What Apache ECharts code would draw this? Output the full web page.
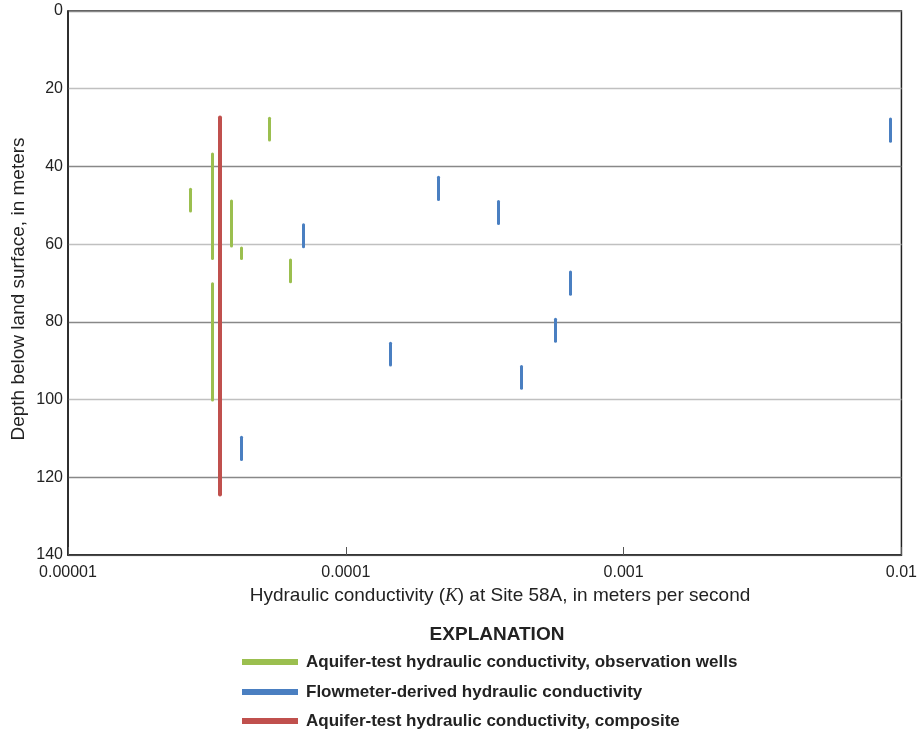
<!DOCTYPE html>
<html>
<head>
<meta charset="utf-8">
<script src="https://cdn.jsdelivr.net/npm/echarts@6/dist/echarts.min.js"></script>
<style>
  html, body { margin: 0; padding: 0; background: #fff; }
  #chart { width: 920px; height: 729px; }
</style>
</head>
<body>
<div id="chart"></div>
<script>
// Hydraulic conductivity (m/s) and tested depth interval (m) at Site 58A
const obsK      = [2.75e-5, 3.30e-5, 3.30e-5, 3.87e-5, 4.22e-5, 5.28e-5, 6.33e-5];
const obsTop    = [45.9,    36.8,    70.2,    48.9,    61.0,    27.6,    64.1];
const obsBottom = [51.5,    63.7,    100.1,   60.5,    63.7,    33.2,    69.7];

const flowK      = [7.03e-5, 2.15e-4, 3.55e-4, 6.42e-4, 5.69e-4, 1.44e-4, 4.28e-4, 4.22e-5, 9.12e-3];
const flowTop    = [55.0,    42.8,    49.0,    67.2,    79.3,    85.5,    91.5,    109.7,   27.8];
const flowBottom = [60.7,    48.5,    54.7,    72.9,    85.0,    91.1,    97.1,    115.4,   33.5];

const compK      = [3.52e-5];
const compTop    = [27.4];
const compBottom = [124.4];

const xTickLabels = ['0.00001', '0.0001', '0.001', '0.01'];
const yTicks = [0, 20, 40, 60, 80, 100, 120, 140];

const seriesNames = [
  'Aquifer-test hydraulic conductivity, observation wells',
  'Flowmeter-derived hydraulic conductivity',
  'Aquifer-test hydraulic conductivity, composite'
];
const colors = ['#9bbf4f', '#4a7fc1', '#c0504d'];

const FONT = '"Liberation Sans", Arial, sans-serif';

function segments(k, top, bottom) {
  return k.map((v, i) => ({ coords: [[v, top[i]], [v, bottom[i]]] }));
}

// one legend block per row so the rows stack at fixed spacing
function legendRow(name, top) {
  return {
    orient: 'horizontal',
    left: 242,
    top: top,
    padding: 0,
    itemWidth: 54,
    itemHeight: 4,
    icon: 'rect',
    selectedMode: false,
    textStyle: {
      color: '#222', fontFamily: FONT, fontSize: 17, fontWeight: 'bold',
      lineHeight: 20, padding: [0, 0, 0, 4]
    },
    data: [name]
  };
}

const chart = echarts.init(document.getElementById('chart'), null, { renderer: 'canvas' });

chart.setOption({
  animation: false,
  backgroundColor: '#fff',
  grid: {
    left: 68, right: 17, top: 11, bottom: 174,
    show: true, borderColor: '#222', borderWidth: 1.5, backgroundColor: 'transparent'
  },
  xAxis: {
    type: 'log',
    logBase: 10,
    min: 1e-5,
    max: 1e-2,
    axisLine: { show: true, onZero: false, lineStyle: { color: '#222', width: 1.5 } },
    axisTick: { show: true, inside: true, length: 8, lineStyle: { color: '#555', width: 1 } },
    splitLine: { show: false },
    axisLabel: {
      margin: 10,
      color: '#222',
      fontFamily: FONT,
      fontSize: 16,
      formatter: function (v) {
        const idx = Math.round(Math.log10(v)) + 5;
        return xTickLabels[idx] || '';
      }
    }
  },
  yAxis: {
    type: 'value',
    inverse: true,
    min: 0,
    max: 140,
    interval: 20,
    axisLine: { show: true, lineStyle: { color: '#222', width: 1.5 } },
    axisTick: { show: false },
    axisLabel: {
      margin: 5,
      color: '#222',
      fontFamily: FONT,
      fontSize: 16,
      formatter: function (v) { return yTicks.indexOf(v) >= 0 ? String(v) : ''; }
    },
    splitLine: { show: true, lineStyle: { color: ['#888888', '#c0c0c0'], width: 1.4 } }
  },
  legend: [
    legendRow(seriesNames[0], 652),
    legendRow(seriesNames[1], 682),
    legendRow(seriesNames[2], 711)
  ],
  graphic: [
    {
      type: 'text',
      x: 497,
      y: 635,
      style: {
        text: 'EXPLANATION', fill: '#222', font: 'bold 19px ' + FONT,
        align: 'center', verticalAlign: 'middle'
      }
    },
    {
      type: 'text',
      x: 19,
      y: 289,
      rotation: Math.PI / 2,
      style: {
        text: 'Depth below land surface, in meters',
        fill: '#222',
        font: '19px ' + FONT,
        align: 'center',
        verticalAlign: 'middle'
      }
    },
    {
      type: 'text',
      x: 500,
      y: 596,
      style: {
        text: '{n|Hydraulic conductivity (}{i|K}{n|) at Site 58A, in meters per second}',
        align: 'center',
        verticalAlign: 'middle',
        rich: {
          n: { fill: '#222', fontFamily: FONT, fontSize: 19 },
          i: { fill: '#222', fontFamily: '"Liberation Serif", serif', fontStyle: 'italic', fontSize: 19 }
        }
      }
    }
  ],
  series: [
    {
      name: seriesNames[0],
      type: 'lines',
      coordinateSystem: 'cartesian2d',
      lineStyle: { color: colors[0], width: 3, opacity: 1, cap: 'round' },
      itemStyle: { color: colors[0] },
      data: segments(obsK, obsTop, obsBottom),
      z: 3
    },
    {
      name: seriesNames[1],
      type: 'lines',
      coordinateSystem: 'cartesian2d',
      lineStyle: { color: colors[1], width: 3, opacity: 1, cap: 'round' },
      itemStyle: { color: colors[1] },
      data: segments(flowK, flowTop, flowBottom),
      z: 3
    },
    {
      name: seriesNames[2],
      type: 'lines',
      coordinateSystem: 'cartesian2d',
      lineStyle: { color: colors[2], width: 4, opacity: 1, cap: 'round' },
      itemStyle: { color: colors[2] },
      data: segments(compK, compTop, compBottom),
      z: 4
    }
  ]
});
</script>
</body>
</html>
